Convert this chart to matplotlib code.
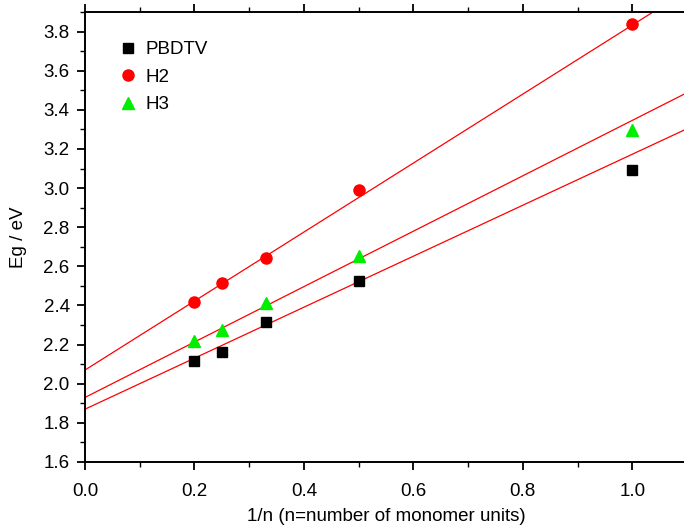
import numpy as np
import matplotlib
matplotlib.use('Agg')
import matplotlib.pyplot as plt
from matplotlib.ticker import MultipleLocator

plt.rcParams['font.family'] = ['Liberation Sans', 'DejaVu Sans']

inv_n = [0.2, 0.25, 0.33, 0.5, 1.0]
pbdtv = [2.115, 2.16, 2.318, 2.524, 3.092]
h2 = [2.42, 2.516, 2.644, 2.99, 3.84]
h3 = [2.22, 2.276, 2.412, 2.655, 3.295]

# linear fits as drawn (intercept, slope)
fit_pbdtv = (1.870, 1.303)
fit_h2 = (2.070, 1.763)
fit_h3 = (1.930, 1.416)

fig = plt.figure(figsize=(6.84, 5.26), dpi=100)
ax = fig.add_axes([85 / 684, 64 / 526, 602 / 684, 450 / 526])

xs = np.array([0.0, 1.1])
for b, m in [fit_pbdtv, fit_h2, fit_h3]:
    ax.plot(xs, b + m * xs, color='red', lw=0.9, zorder=2)

ax.plot(inv_n, pbdtv, 's', color='black', ms=7, ls='none', label='PBDTV', zorder=3)
ax.plot(inv_n, h2, 'o', color='red', ms=8, ls='none', label='H2', zorder=3)
ax.plot(inv_n, h3, '^', color='#00ee00', ms=8.5, ls='none', label='H3', zorder=3)

ax.set_xlim(0, 1.1)
ax.set_ylim(1.6, 3.9)
ax.xaxis.set_major_locator(MultipleLocator(0.2))
ax.xaxis.set_minor_locator(MultipleLocator(0.1))
ax.yaxis.set_major_locator(MultipleLocator(0.2))
ax.yaxis.set_minor_locator(MultipleLocator(0.1))
ax.tick_params(which='major', direction='out', length=6, width=1.3, labelsize=13.5,
               top=True, right=True)
ax.tick_params(axis='x', which='major', pad=9)
ax.tick_params(axis='y', which='major', pad=5)
ax.tick_params(which='minor', direction='out', length=3.5, width=1.0, top=True, right=True)
for s in ax.spines.values():
    s.set_linewidth(1.4)

ax.set_xlabel('1/n (n=number of monomer units)', fontsize=13.5, labelpad=6)
ax.set_ylabel('Eg / eV', fontsize=13.5, labelpad=12)

ax.legend(loc='upper left', frameon=False, fontsize=13.5, handlelength=1.0,
          handletextpad=0.45, borderaxespad=0.0, bbox_to_anchor=(0.043, 0.952),
          labelspacing=0.55)

fig.savefig('out.png', dpi=100)
